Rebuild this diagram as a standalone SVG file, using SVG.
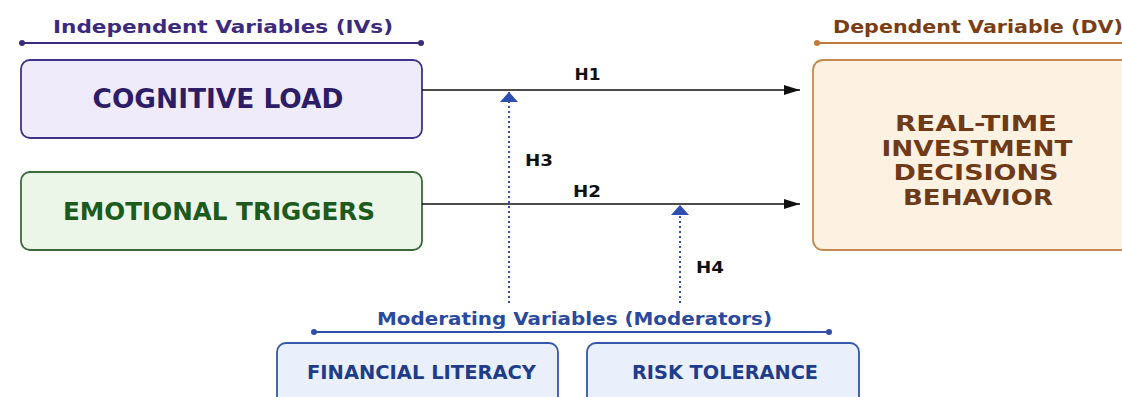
<svg xmlns="http://www.w3.org/2000/svg" width="1122" height="397" viewBox="0 0 1122 397">
<style>
text{font-family:"DejaVu Sans","Liberation Sans",sans-serif;font-weight:bold;text-anchor:middle}
.iv{fill:#3b2a7e}
.dv{fill:#7a3d14}
.mod{fill:#2a4aa0}
.dvt{fill:#6e3a17;font-size:21px}
.lbl{fill:#111;font-size:16px}
.solid{stroke:#111;stroke-width:1.7;fill:none}
.dot{stroke:#2d4fb0;stroke-width:2;stroke-dasharray:2 3;fill:none}
</style>
<defs>
<marker id="ah" viewBox="0 0 16 10" refX="16" refY="5" markerWidth="16" markerHeight="10" markerUnits="userSpaceOnUse" orient="auto"><path d="M0,0L16,5L0,10Z" fill="#111"/></marker>
<marker id="bh" viewBox="0 0 10 18" refX="10" refY="9" markerWidth="10" markerHeight="18" markerUnits="userSpaceOnUse" orient="auto"><path d="M0,0L10,9L0,18Z" fill="#2d4fb0"/></marker>
</defs>
<rect width="1122" height="397" fill="#ffffff"/>
<g id="iv-header">
<text class="iv" x="223" y="33" font-size="17" textLength="340" lengthAdjust="spacingAndGlyphs">Independent Variables (IVs)</text>
<line x1="22" y1="43" x2="421" y2="43" stroke="#3b2a7e" stroke-width="2"/>
<circle cx="22" cy="43" r="3" fill="#3b2a7e"/><circle cx="421" cy="43" r="3" fill="#3b2a7e"/>
</g>
<g id="dv-header">
<text class="dv" x="833" y="33" font-size="17" style="text-anchor:start" textLength="290" lengthAdjust="spacingAndGlyphs">Dependent Variable (DV)</text>
<line x1="817" y1="43" x2="1122" y2="43" stroke="#c07a3e" stroke-width="2"/>
<circle cx="817" cy="43" r="3" fill="#c07a3e"/>
</g>
<g id="cognitive-load">
<rect x="21" y="60" width="401" height="78" rx="9" fill="#efebfb" stroke="#3e3388" stroke-width="1.8"/>
<text x="218" y="107.5" font-size="26" fill="#2d1d66" textLength="251" lengthAdjust="spacingAndGlyphs">COGNITIVE LOAD</text>
</g>
<g id="emotional-triggers">
<rect x="21" y="172" width="401" height="78" rx="9" fill="#ebf6e8" stroke="#3a6a3a" stroke-width="1.8"/>
<text x="219" y="219.5" font-size="25" fill="#1d5a1d" textLength="312" lengthAdjust="spacingAndGlyphs">EMOTIONAL TRIGGERS</text>
</g>
<g id="dv-box">
<rect x="813" y="60" width="330" height="190" rx="10" fill="#fdf1e2" stroke="#c68a4f" stroke-width="1.8"/>
<text class="dvt" x="976" y="131" textLength="162" lengthAdjust="spacingAndGlyphs">REAL-TIME</text>
<text class="dvt" x="977" y="155.5" textLength="191" lengthAdjust="spacingAndGlyphs">INVESTMENT</text>
<text class="dvt" x="976" y="180" textLength="165" lengthAdjust="spacingAndGlyphs">DECISIONS</text>
<text class="dvt" x="978" y="204.5" textLength="150" lengthAdjust="spacingAndGlyphs">BEHAVIOR</text>
</g>
<g id="mod-header">
<text class="mod" x="574.5" y="325" font-size="17" textLength="395" lengthAdjust="spacingAndGlyphs">Moderating Variables (Moderators)</text>
<line x1="314" y1="332" x2="829" y2="332" stroke="#2e4fa8" stroke-width="2"/>
<circle cx="314" cy="332" r="3" fill="#2e4fa8"/><circle cx="829" cy="332" r="3" fill="#2e4fa8"/>
</g>
<g id="financial-literacy">
<rect x="277" y="343" width="281" height="70" rx="9" fill="#e9effb" stroke="#3355aa" stroke-width="1.8"/>
<text x="421.5" y="379" font-size="19" fill="#1f3c8a" textLength="229" lengthAdjust="spacingAndGlyphs">FINANCIAL LITERACY</text>
</g>
<g id="risk-tolerance">
<rect x="587" y="343" width="272" height="70" rx="9" fill="#e9effb" stroke="#3355aa" stroke-width="1.8"/>
<text x="725" y="379" font-size="19" fill="#1f3c8a" textLength="186" lengthAdjust="spacingAndGlyphs">RISK TOLERANCE</text>
</g>
<g id="connectors">
<line class="solid" x1="422" y1="90" x2="800" y2="90" marker-end="url(#ah)"/>
<line class="solid" x1="422" y1="204" x2="800" y2="204" marker-end="url(#ah)"/>
<line class="dot" x1="509" y1="303" x2="509" y2="92" marker-end="url(#bh)"/>
<line class="dot" x1="680" y1="303" x2="680" y2="205" marker-end="url(#bh)"/>
<text class="lbl" x="587.5" y="80" textLength="26" lengthAdjust="spacingAndGlyphs">H1</text>
<text class="lbl" x="587" y="197" textLength="28" lengthAdjust="spacingAndGlyphs">H2</text>
<text class="lbl" x="539" y="166" textLength="28" lengthAdjust="spacingAndGlyphs">H3</text>
<text class="lbl" x="710" y="273" textLength="28" lengthAdjust="spacingAndGlyphs">H4</text>
</g>
</svg>
